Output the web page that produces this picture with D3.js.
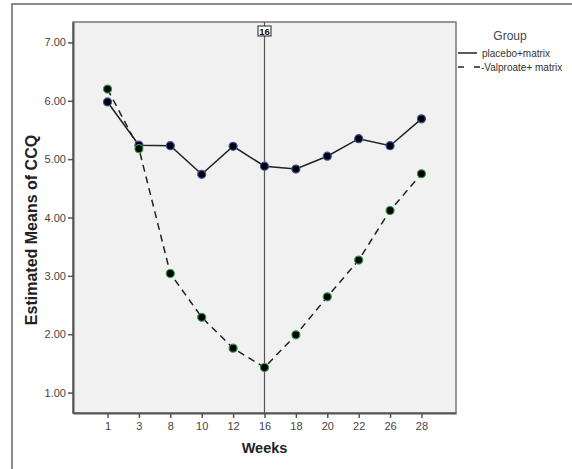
<!DOCTYPE html>
<html>
  <script src="https://d3js.org/d3.v7.min.js" type="text/JavaScript"></script>
  <body style="margin:0;background:#fff">
    <svg />
    <script>
var weeks = ['1', '3', '8', '10', '12', '16', '18', '20', '22', '26', '28'];
var placebo = [5.98, 5.24, 5.23, 4.74, 5.22, 4.88, 4.83, 5.05, 5.35, 5.23, 5.69];
var valproate = [6.20, 5.18, 3.04, 2.29, 1.76, 1.43, 1.99, 2.64, 3.27, 4.12, 4.75];
var yTicks = [1, 2, 3, 4, 5, 6, 7];
var refWeek = '16';
var seriesNames = ['placebo+matrix', '-Valproate+ matrix'];

var svg = d3.select('svg').attr('width', 572).attr('height', 469)
  .style('font-family', 'Liberation Sans, Arial, sans-serif');

// outer frame (only top and left edge visible)
svg.append('rect').attr('x', 12).attr('y', 4).attr('width', 700).attr('height', 600)
  .attr('fill', 'none').attr('stroke', '#666').attr('stroke-width', 1.5);

var L = 73, T = 22, R = 456, B = 413;

var x = d3.scalePoint().domain(weeks).range([L, R]).padding(1.1);
var y = d3.scaleLinear().domain([0.65, 7.35]).range([B, T]);

svg.append('rect').attr('x', L).attr('y', T).attr('width', R - L).attr('height', B - T)
  .attr('fill', '#f1f1f1').attr('stroke', '#777').attr('stroke-width', 1.5);

var xAxis = svg.append('g').attr('transform', `translate(0,${B})`)
  .call(d3.axisBottom(x).tickSizeInner(5).tickSizeOuter(0).tickPadding(4));
var yAxis = svg.append('g').attr('transform', `translate(${L},0)`)
  .call(d3.axisLeft(y).tickValues(yTicks).tickFormat(d3.format('.2f')).tickSizeInner(5).tickSizeOuter(0).tickPadding(2));
[xAxis, yAxis].forEach(a => {
  a.select('.domain').attr('stroke', '#555').attr('stroke-width', 2);
  a.selectAll('.tick line').attr('stroke', '#555').attr('stroke-width', 1.5);
  a.selectAll('.tick text').attr('fill', '#444').style('font-size', '11px');
});

// reference line at week 16
svg.append('line').attr('x1', x(refWeek)).attr('x2', x(refWeek)).attr('y1', T).attr('y2', B)
  .attr('stroke', '#555').attr('stroke-width', 1.2);
svg.append('rect').attr('x', x(refWeek) - 6.5).attr('y', T + 4).attr('width', 13).attr('height', 10)
  .attr('fill', '#fff').attr('stroke', '#222').attr('stroke-width', 1);
svg.append('text').attr('x', x(refWeek)).attr('y', T + 12.5).attr('text-anchor', 'middle')
  .style('font-size', '9.5px').style('font-weight', 'bold').attr('fill', '#111').text(refWeek);

var line = d3.line().x((d, i) => x(weeks[i])).y(d => y(d));

svg.append('path').datum(placebo).attr('d', line).attr('fill', 'none')
  .attr('stroke', '#222').attr('stroke-width', 1.5);
svg.append('path').datum(valproate).attr('d', line).attr('fill', 'none')
  .attr('stroke', '#222').attr('stroke-width', 1.5).attr('stroke-dasharray', '7,5');

svg.append('g').selectAll('circle').data(placebo).enter().append('circle')
  .attr('cx', (d, i) => x(weeks[i])).attr('cy', d => y(d)).attr('r', 4)
  .attr('fill', '#000').attr('stroke', '#3b55a8').attr('stroke-width', 1.2);
svg.append('g').selectAll('circle').data(valproate).enter().append('circle')
  .attr('cx', (d, i) => x(weeks[i])).attr('cy', d => y(d)).attr('r', 4)
  .attr('fill', '#000').attr('stroke', '#2f9a45').attr('stroke-width', 1.2);

// axis titles
svg.append('text').attr('x', (L + R) / 2).attr('y', 453).attr('text-anchor', 'middle')
  .style('font-size', '14.5px').style('font-weight', 'bold').attr('fill', '#222').text('Weeks');
svg.append('text').attr('transform', 'translate(37,230) rotate(-90)').attr('text-anchor', 'middle')
  .style('font-size', '16px').style('font-weight', 'bold').attr('fill', '#222').text('Estimated Means of CCQ');

// legend
svg.append('text').attr('x', 510).attr('y', 40).attr('text-anchor', 'middle')
  .style('font-size', '12px').attr('fill', '#444').text('Group');
svg.append('line').attr('x1', 458).attr('x2', 477).attr('y1', 53).attr('y2', 53)
  .attr('stroke', '#222').attr('stroke-width', 1.5);
svg.append('line').attr('x1', 458).attr('x2', 481).attr('y1', 67).attr('y2', 67)
  .attr('stroke', '#222').attr('stroke-width', 1.5).attr('stroke-dasharray', '6,10');
svg.append('text').attr('x', 482).attr('y', 57).style('font-size', '10px').attr('fill', '#333').text(seriesNames[0]);
svg.append('text').attr('x', 481).attr('y', 71).style('font-size', '10px').attr('fill', '#333').text(seriesNames[1]);
    </script>
  </body>
</html>
